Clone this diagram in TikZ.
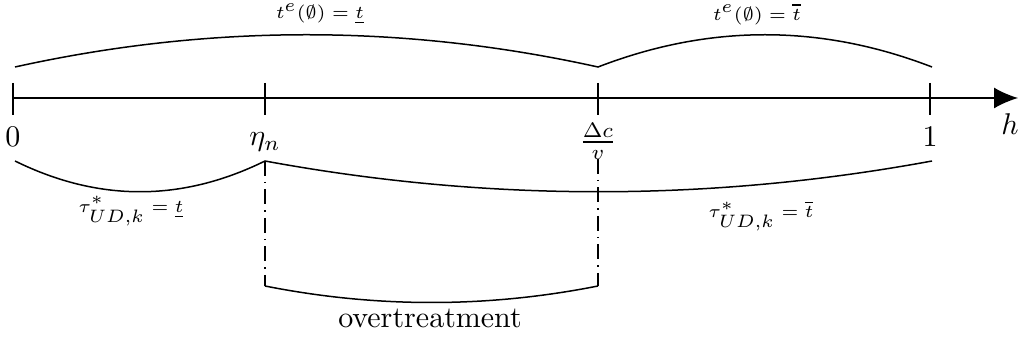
\documentclass[tikz,border=0pt]{standalone}
\usetikzlibrary{arrows.meta,calc}
\DeclareMathSizes{6}{6}{6}{6}
\begin{document}
\begin{tikzpicture}[x=0.33333pt,y=-0.33333pt,line width=0.5pt,
  guide/.style={dash pattern=on 5pt off 2pt on 0.5pt off 2pt},
  ticklab/.style={anchor=base,inner sep=0pt},
  smalllab/.style={inner sep=0pt,font=\fontsize{6}{7}\selectfont}]
\useasboundingbox (0,0) rectangle (1022,342);
% axis
\coordinate (O) at (13,98);
\coordinate (E) at (1018,98);
\draw[-{Latex[length=8pt,width=7pt]}] (O) -- (E);
% ticks
\foreach \n/\x in {a/13,b/265,c/598,d/930}{
  \coordinate (\n top) at (\x,83);
  \coordinate (\n bot) at (\x,115);
  \draw (\n top) -- (\n bot);
}
% tick labels
\node[ticklab] (l0) at (13,147) {$0$};
\node[ticklab] (leta) at (265,146) {$\eta_n$};
\node[ticklab] (lfrac) at (598,149.5) {$\frac{\Delta c}{v}$};
\node[ticklab] (l1) at (930,147) {$1$};
\node (lh) at (1010,124) {$h$};
% top arcs
\coordinate (t0) at (15,67);
\coordinate (t1) at (598,67);
\coordinate (t2) at (932,67);
\draw (t0) .. controls ($(t0)!1/3!(t1)+(0,-43)$) and ($(t0)!2/3!(t1)+(0,-43)$) .. (t1)
           .. controls ($(t1)!1/3!(t2)+(0,-43)$) and ($(t1)!2/3!(t2)+(0,-43)$) .. (t2);
\node[smalllab] (top1) at (320,14) {$t^e(\emptyset) = \underline{t}$};
\node[smalllab] (top2) at (757,14) {$t^e(\emptyset) = \overline{t}$};
% bottom arcs
\coordinate (b0) at (15,161);
\coordinate (b1) at (265,161);
\coordinate (b2) at (932,161);
\draw (b0) .. controls ($(b0)!1/3!(b1)+(0,41)$) and ($(b0)!2/3!(b1)+(0,41)$) .. (b1)
           .. controls ($(b1)!1/3!(b2)+(0,41)$) and ($(b1)!2/3!(b2)+(0,41)$) .. (b2);
\node[smalllab] (bot1) at (131,211) {$\tau^*_{UD,k} = \underline{t}$};
\node[smalllab] (bot2) at (761,216) {$\tau^*_{UD,k} = \overline{t}$};
% overtreatment
\coordinate (o1) at (265,286);
\coordinate (o2) at (598,286);
\coordinate (d2) at (598,159);
\draw[guide] (b1) -- (o1);
\draw[guide] (d2) -- (o2);
\draw (o1) .. controls ($(o1)!1/3!(o2)+(0,22)$) and ($(o1)!2/3!(o2)+(0,22)$) .. (o2);
\node[ticklab] (ot) at (430,328) {overtreatment};
\end{tikzpicture}
\end{document}
